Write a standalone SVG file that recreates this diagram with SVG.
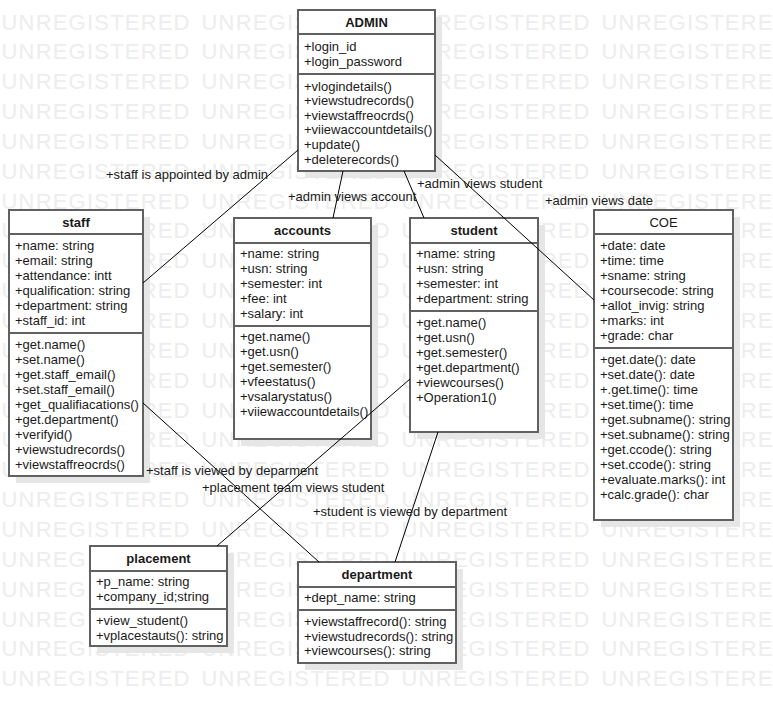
<svg xmlns="http://www.w3.org/2000/svg" xmlns:xlink="http://www.w3.org/1999/xlink" width="773" height="704" viewBox="0 0 773 704">
<style>
.wm{font-family:"Liberation Sans",Arial,sans-serif;font-size:22px;fill:#ededed;}
.box{fill:#fff;stroke:#616161;stroke-width:2;}
.sh{fill:#e6e6e6;}
.dv{stroke:#616161;stroke-width:2;}
.t{font-family:"Liberation Sans",Arial,sans-serif;font-size:13px;fill:#1a1a1a;}
.h{text-anchor:middle;font-weight:bold;}
.hn{text-anchor:middle;}
.conn line{stroke:#000;stroke-width:1;fill:none;}
</style>
<defs>
<g id="wm">
<text class="wm" x="1.5" y="0" textLength="188" lengthAdjust="spacing">UNREGISTERED</text>
<text class="wm" x="201.5" y="0" textLength="188" lengthAdjust="spacing">UNREGISTERED</text>
<text class="wm" x="401.5" y="0" textLength="188" lengthAdjust="spacing">UNREGISTERED</text>
<text class="wm" x="601.5" y="0" textLength="188" lengthAdjust="spacing">UNREGISTERED</text>
</g>
</defs>
<rect x="0" y="0" width="773" height="704" fill="#fff"/>
<g id="watermark">
<use href="#wm" y="29.5"/><use href="#wm" y="59.35"/><use href="#wm" y="89.2"/><use href="#wm" y="119.05"/>
<use href="#wm" y="148.9"/><use href="#wm" y="178.75"/><use href="#wm" y="208.6"/><use href="#wm" y="238.45"/>
<use href="#wm" y="268.3"/><use href="#wm" y="298.15"/><use href="#wm" y="328"/><use href="#wm" y="357.85"/>
<use href="#wm" y="387.7"/><use href="#wm" y="417.55"/><use href="#wm" y="447.4"/><use href="#wm" y="477.25"/>
<use href="#wm" y="507.1"/><use href="#wm" y="536.95"/><use href="#wm" y="566.8"/><use href="#wm" y="596.65"/>
<use href="#wm" y="626.5"/><use href="#wm" y="656.35"/><use href="#wm" y="686.2"/>
</g>
<g id="admin">
<rect class="sh" x="305" y="17" width="137" height="161"/>
<rect class="box" x="298" y="10" width="137" height="161"/>
<line class="dv" x1="298" y1="34" x2="435" y2="34"/>
<line class="dv" x1="298" y1="74" x2="435" y2="74"/>
<text class="t h" x="366.5" y="26.5">ADMIN</text>
<text class="t" x="304" y="51">+login_id</text>
<text class="t" x="304" y="66">+login_password</text>
<text class="t" x="304" y="90.5">+vlogindetails()</text>
<text class="t" x="304" y="105.1">+viewstudrecords()</text>
<text class="t" x="304" y="119.7">+viewstaffreocrds()</text>
<text class="t" x="304" y="134.3">+viiewaccountdetails()</text>
<text class="t" x="304" y="148.9">+update()</text>
<text class="t" x="304" y="163.5">+deleterecords()</text>
</g>
<g id="staff">
<rect class="sh" x="16" y="217" width="134" height="266"/>
<rect class="box" x="9" y="210" width="134" height="266"/>
<line class="dv" x1="9" y1="234" x2="143" y2="234"/>
<line class="dv" x1="9" y1="333" x2="143" y2="333"/>
<text class="t h" x="76" y="226.5">staff</text>
<text class="t" x="15" y="250">+name: string</text>
<text class="t" x="15" y="265">+email: string</text>
<text class="t" x="15" y="280">+attendance: intt</text>
<text class="t" x="15" y="295">+qualification: string</text>
<text class="t" x="15" y="310">+department: string</text>
<text class="t" x="15" y="325">+staff_id: int</text>
<text class="t" x="15" y="348.5">+get.name()</text>
<text class="t" x="15" y="363.5">+set.name()</text>
<text class="t" x="15" y="378.5">+get.staff_email()</text>
<text class="t" x="15" y="393.5">+set.staff_email()</text>
<text class="t" x="15" y="408.5">+get_qualifiacations()</text>
<text class="t" x="15" y="423.5">+get.department()</text>
<text class="t" x="15" y="438.5">+verifyid()</text>
<text class="t" x="15" y="453.5">+viewstudrecords()</text>
<text class="t" x="15" y="468.5">+viewstaffreocrds()</text>
</g>
<g id="accounts">
<rect class="sh" x="241" y="225" width="137" height="221"/>
<rect class="box" x="234" y="218" width="137" height="221"/>
<line class="dv" x1="234" y1="243" x2="371" y2="243"/>
<line class="dv" x1="234" y1="326" x2="371" y2="326"/>
<text class="t h" x="302.5" y="235">accounts</text>
<text class="t" x="240" y="258">+name: string</text>
<text class="t" x="240" y="273">+usn: string</text>
<text class="t" x="240" y="288">+semester: int</text>
<text class="t" x="240" y="303">+fee: int</text>
<text class="t" x="240" y="318">+salary: int</text>
<text class="t" x="240" y="340.5">+get.name()</text>
<text class="t" x="240" y="355.5">+get.usn()</text>
<text class="t" x="240" y="370.5">+get.semester()</text>
<text class="t" x="240" y="385.5">+vfeestatus()</text>
<text class="t" x="240" y="400.5">+vsalarystatus()</text>
<text class="t" x="240" y="415.5">+viiewaccountdetails()</text>
</g>
<g id="student">
<rect class="sh" x="417" y="225" width="128" height="214"/>
<rect class="box" x="410" y="218" width="128" height="214"/>
<line class="dv" x1="410" y1="243" x2="538" y2="243"/>
<line class="dv" x1="410" y1="311" x2="538" y2="311"/>
<text class="t h" x="474" y="235">student</text>
<text class="t" x="416" y="258">+name: string</text>
<text class="t" x="416" y="273">+usn: string</text>
<text class="t" x="416" y="288">+semester: int</text>
<text class="t" x="416" y="303">+department: string</text>
<text class="t" x="416" y="327">+get.name()</text>
<text class="t" x="416" y="342">+get.usn()</text>
<text class="t" x="416" y="357">+get.semester()</text>
<text class="t" x="416" y="372">+get.department()</text>
<text class="t" x="416" y="387">+viewcourses()</text>
<text class="t" x="416" y="402">+Operation1()</text>
</g>
<g id="coe">
<rect class="sh" x="601" y="217" width="139" height="310"/>
<rect class="box" x="594" y="210" width="139" height="310"/>
<line class="dv" x1="594" y1="234" x2="733" y2="234"/>
<line class="dv" x1="594" y1="348" x2="733" y2="348"/>
<text class="t hn" x="663.5" y="226.5">COE</text>
<text class="t" x="600" y="250">+date: date</text>
<text class="t" x="600" y="265">+time: time</text>
<text class="t" x="600" y="280">+sname: string</text>
<text class="t" x="600" y="295">+coursecode: string</text>
<text class="t" x="600" y="310">+allot_invig: string</text>
<text class="t" x="600" y="325">+marks: int</text>
<text class="t" x="600" y="340">+grade: char</text>
<text class="t" x="600" y="363.5">+get.date(): date</text>
<text class="t" x="600" y="378.5">+set.date(): date</text>
<text class="t" x="600" y="393.5">+.get.time(): time</text>
<text class="t" x="600" y="408.5">+set.time(): time</text>
<text class="t" x="600" y="423.5">+get.subname(): string</text>
<text class="t" x="600" y="438.5">+set.subname(): string</text>
<text class="t" x="600" y="453.5">+get.ccode(): string</text>
<text class="t" x="600" y="468.5">+set.ccode(): string</text>
<text class="t" x="600" y="483.5">+evaluate.marks(): int</text>
<text class="t" x="600" y="498.5">+calc.grade(): char</text>
</g>
<g id="placement">
<rect class="sh" x="97" y="553" width="137" height="100"/>
<rect class="box" x="90" y="546" width="137" height="100"/>
<line class="dv" x1="90" y1="571" x2="227" y2="571"/>
<line class="dv" x1="90" y1="609" x2="227" y2="609"/>
<text class="t h" x="158.5" y="562.5">placement</text>
<text class="t" x="96" y="586">+p_name: string</text>
<text class="t" x="96" y="601">+company_id;string</text>
<text class="t" x="96" y="624.5">+view_student()</text>
<text class="t" x="96" y="639.5">+vplacestauts(): string</text>
</g>
<g id="department">
<rect class="sh" x="305" y="569" width="158" height="101"/>
<rect class="box" x="298" y="562" width="158" height="101"/>
<line class="dv" x1="298" y1="587" x2="456" y2="587"/>
<line class="dv" x1="298" y1="610" x2="456" y2="610"/>
<text class="t h" x="377" y="579">department</text>
<text class="t" x="304" y="602">+dept_name: string</text>
<text class="t" x="304" y="625.5">+viewstaffrecord(): string</text>
<text class="t" x="304" y="640.5">+viewstudrecords(): string</text>
<text class="t" x="304" y="655">+viewcourses(): string</text>
</g>
<g id="connectors" class="conn">
<line x1="298" y1="150" x2="143" y2="283"/>
<line x1="343" y1="171" x2="333" y2="218"/>
<line x1="404" y1="171" x2="424" y2="218"/>
<line x1="435" y1="155" x2="594" y2="300"/>
<line x1="143" y1="403" x2="319" y2="562"/>
<line x1="217" y1="546" x2="410" y2="379"/>
<line x1="438" y1="432" x2="395" y2="562"/>
<text class="t" x="106" y="178.5">+staff is appointed by admin</text>
<text class="t" x="288" y="200.5">+admin views account</text>
<text class="t" x="417" y="188">+admin views student</text>
<text class="t" x="545" y="204.5">+admin views date</text>
<text class="t" x="146" y="474.5">+staff is viewed by deparment</text>
<text class="t" x="202" y="492">+placement team views student</text>
<text class="t" x="313" y="516">+student is viewed by department</text>
</g>
</svg>
